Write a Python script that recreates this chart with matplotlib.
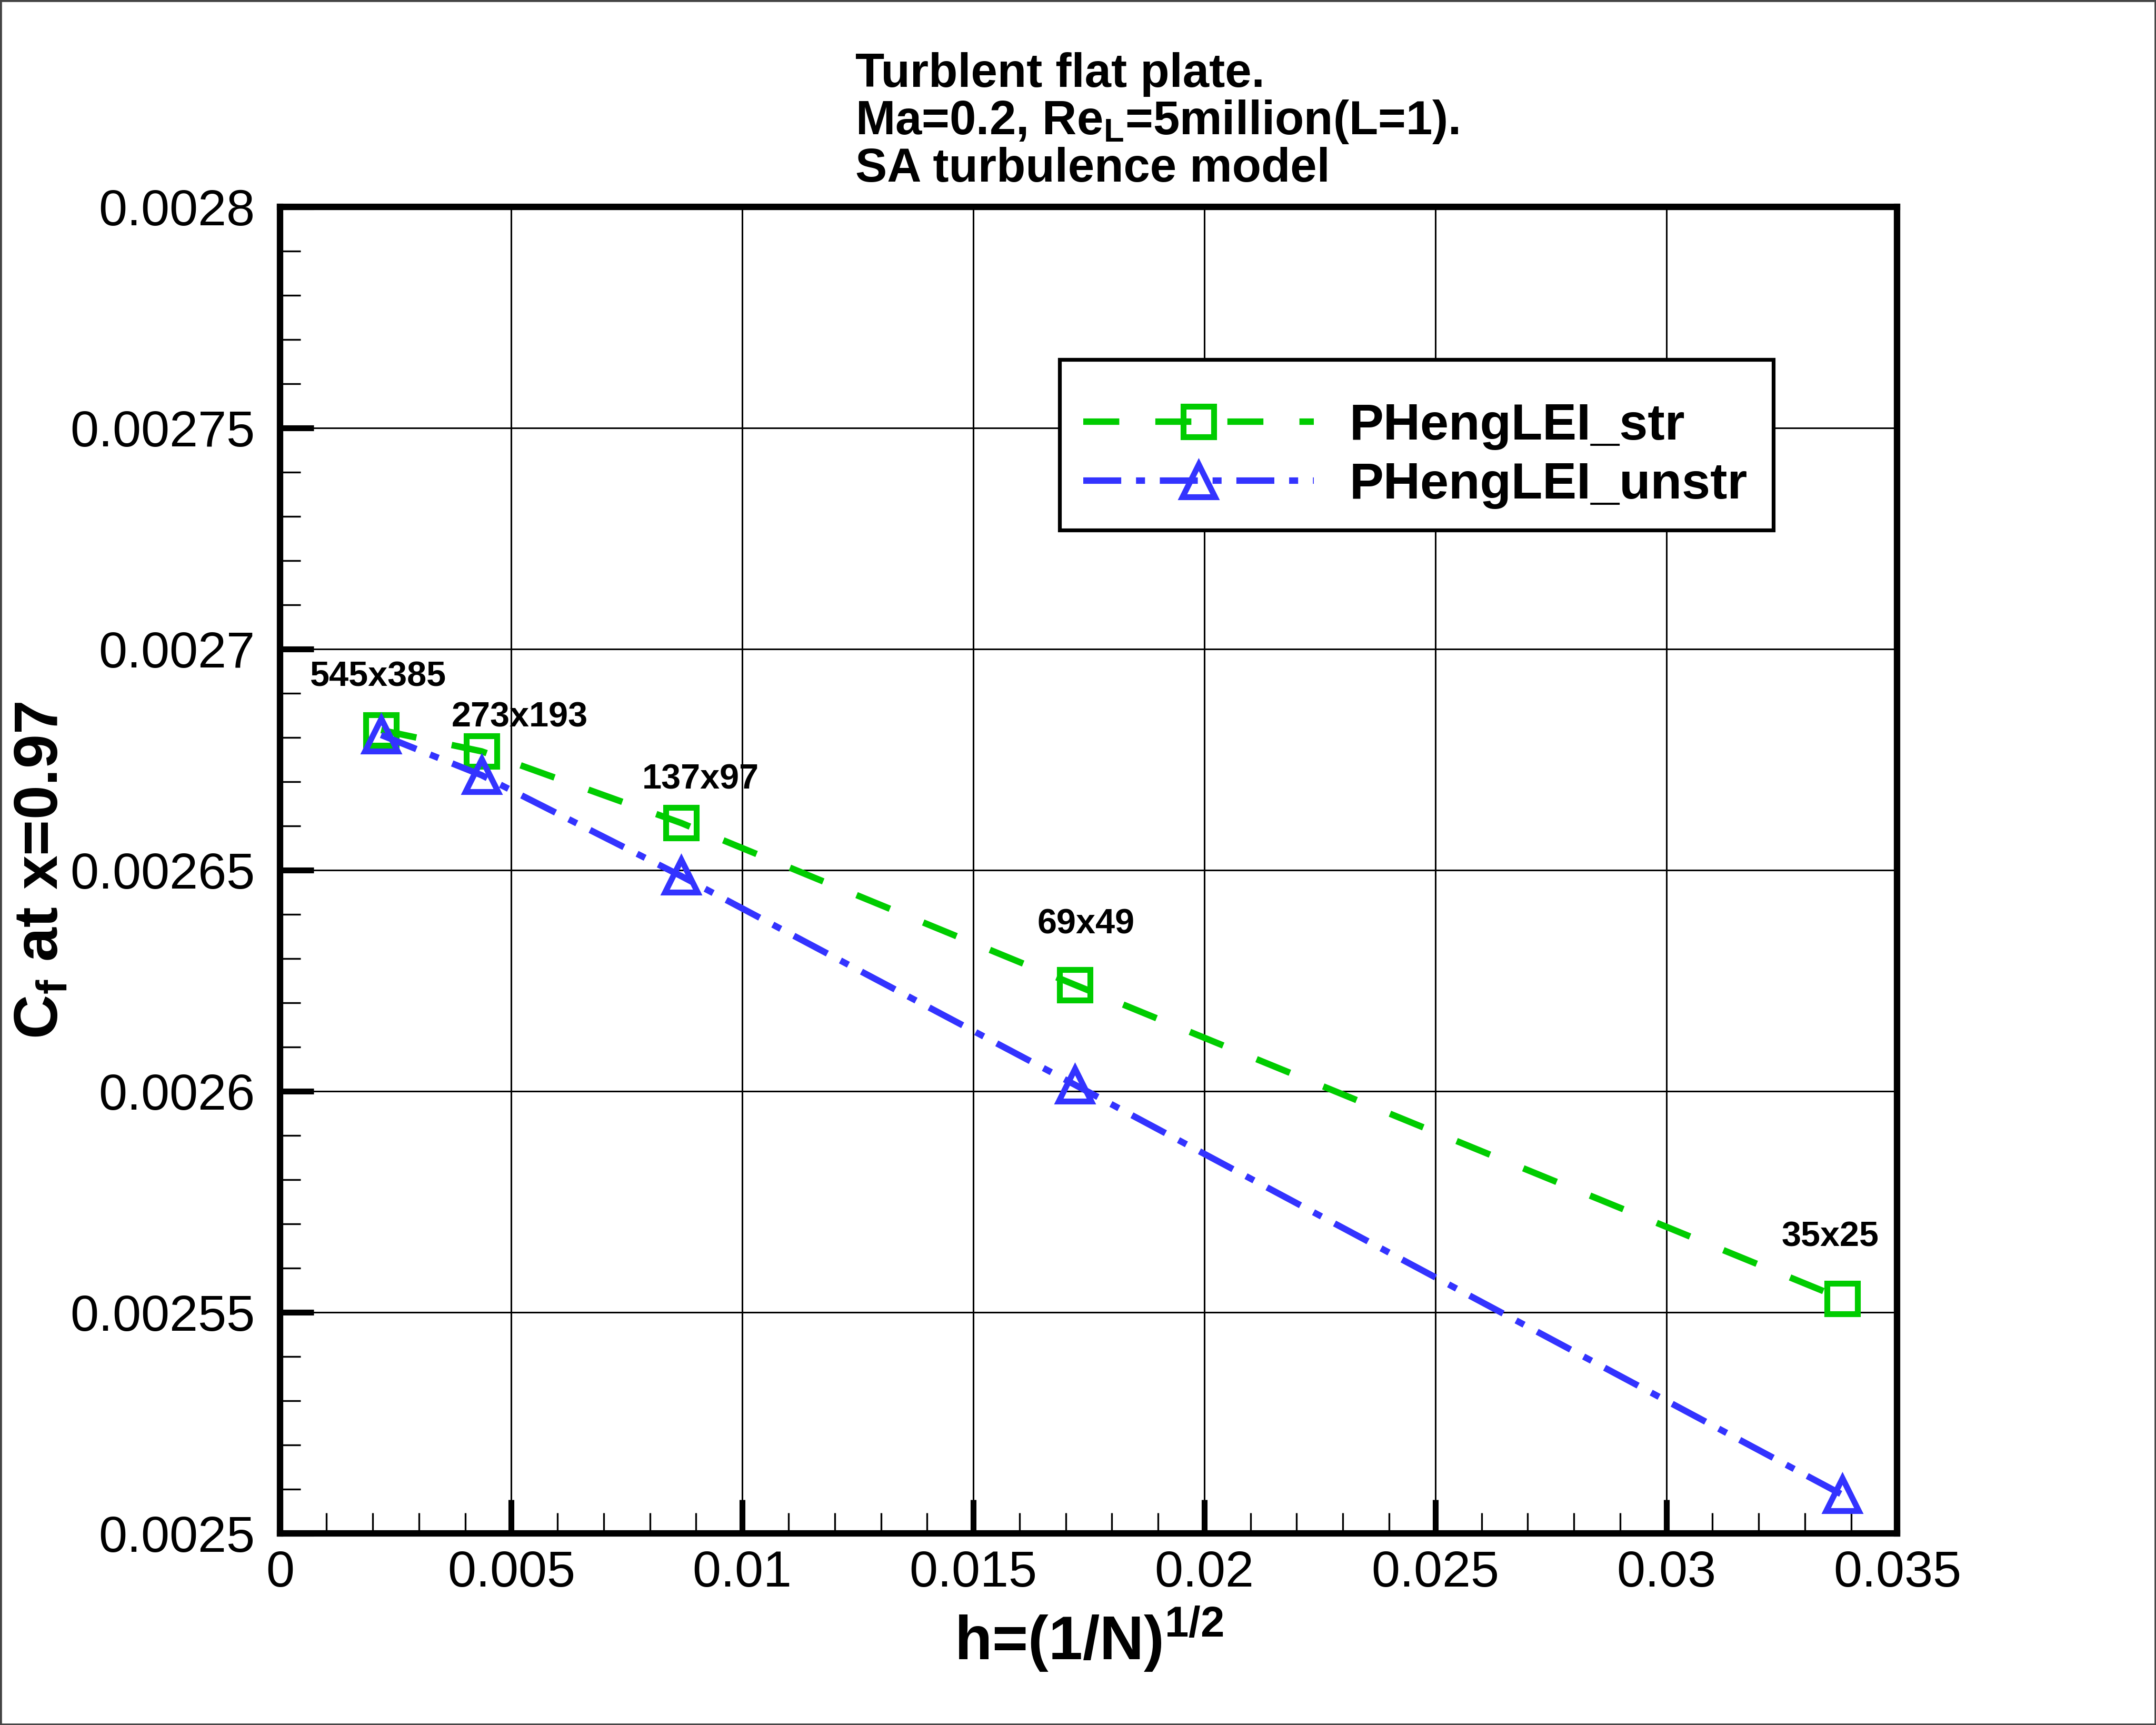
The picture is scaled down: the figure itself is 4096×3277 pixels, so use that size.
import matplotlib
matplotlib.use("Agg")
from matplotlib import pyplot as plt
from matplotlib.patches import Rectangle
from matplotlib.ticker import MultipleLocator

# grid sizes and Cf values
grids = ["545x385", "273x193", "137x97", "69x49", "35x25"]
h = [0.002183, 0.004357, 0.008675, 0.017198, 0.033806]
cf_str = [0.0026817, 0.0026769, 0.0026607, 0.0026241, 0.0025531]
cf_unstr = [0.0026806, 0.0026715, 0.0026487, 0.0026015, 0.0025088]

x_ticks = [0, 0.005, 0.01, 0.015, 0.02, 0.025, 0.03, 0.035]
x_tick_labels = ["0", "0.005", "0.01", "0.015", "0.02", "0.025", "0.03", "0.035"]
y_ticks = [0.0025, 0.00255, 0.0026, 0.00265, 0.0027, 0.00275, 0.0028]
y_tick_labels = ["0.0025", "0.00255", "0.0026", "0.00265", "0.0027", "0.00275", "0.0028"]

title_lines = ["Turblent flat plate.",
               r"Ma=0.2, Re$_\mathregular{L}$=5million(L=1).",
               "SA turbulence model"]

# grid label offsets (points) from the square markers
label_offsets = [(-1, 18), (13, 11.5), (6.7, 14.8), (3.8, 20.5), (-4, 21)]

green = "#00cc00"
blue = "#3333ff"

p = plt.rcParams
p["font.family"] = ["Liberation Sans", "DejaVu Sans"]
p["mathtext.default"] = "regular"

fig = plt.figure(figsize=(10.24, 8.1925), dpi=400)
ax = fig.add_axes([0.130, 0.111, 0.750, 0.769])

ax.plot(h, cf_str, color=green, lw=2.2, ls=(0, (5.6, 5.6)),
        marker="s", ms=10.5, mew=2, mfc="none", mec=green,
        label="PHengLEI_str", zorder=3)
ax.plot(h, cf_unstr, color=blue, lw=2.2, ls=(0, (5.9, 2.3, 1.4, 2.3)),
        marker="^", ms=11, mew=2, mfc="none", mec=blue,
        label="PHengLEI_unstr", zorder=3)

for g, x, y, off in zip(grids, h, cf_str, label_offsets):
    ax.annotate(g, (x, y), xytext=off, textcoords="offset points",
                ha="center", va="center", fontsize=12, fontweight="bold")

ax.set_xlim(0, 0.035)
ax.set_ylim(0.0025, 0.0028)
ax.set_xticks(x_ticks)
ax.set_xticklabels(x_tick_labels)
ax.set_yticks(y_ticks)
ax.set_yticklabels(y_tick_labels)
ax.xaxis.set_minor_locator(MultipleLocator(0.001))
ax.yaxis.set_minor_locator(MultipleLocator(0.00001))
ax.tick_params(which="major", direction="in", length=11.5, width=2,
               labelsize=17.5, top=False, right=False)
ax.tick_params(axis="y", which="major", pad=8.7)
ax.tick_params(axis="x", which="major", pad=5.5)
ax.tick_params(which="minor", direction="in", length=7, width=0.6,
               top=False, right=False)
ax.grid(True, which="major", color="black", lw=0.55)
for s in ax.spines.values():
    s.set_linewidth(2.2)

ax.set_xlabel(r"h=(1/N)$^{1/2}$", fontsize=21, fontweight="bold", labelpad=2.5)
ax.set_ylabel(r"C$_f$ at x=0.97", fontsize=21, fontweight="bold", labelpad=0)

# legend box drawn separately so the rows can sit where they are in the original
ax.add_patch(Rectangle((0.482, 0.7565), 0.4415, 0.1285, transform=ax.transAxes,
                       fc="white", ec="black", lw=1.3, zorder=4, clip_on=False))
leg = ax.legend(loc="center left", bbox_to_anchor=(0.4966, 0.8124),
                borderaxespad=0, borderpad=0,
                prop={"weight": "bold", "size": 17.5},
                handlelength=4.5, handletextpad=0.7,
                labelspacing=0.23, numpoints=1, frameon=False)
leg.set_zorder(5)

title_y = [0.9498, 0.9221, 0.8947]
for line, y in zip(title_lines, title_y):
    fig.text(0.3967, y, line, ha="left", va="baseline",
             fontsize=16.3, fontweight="bold")

fig.add_artist(Rectangle((0, 0), 1, 1, transform=fig.transFigure,
                         fill=False, ec="#444444", lw=1.2))

fig.savefig("out.png", dpi=400)
